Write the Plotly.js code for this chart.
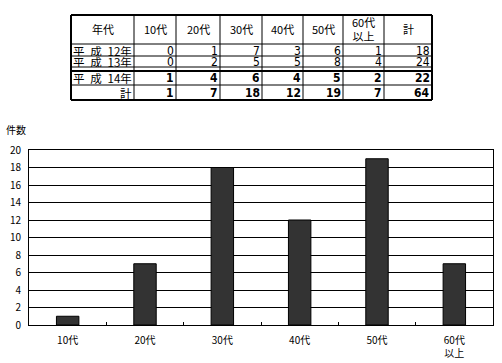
<!DOCTYPE html>
<html>
<head>
<meta charset="utf-8">
<script src="https://cdn.plot.ly/plotly-3.0.1.min.js"></script>
<style>html,body{margin:0;padding:0;background:#fff;}#chart{width:502px;height:363px;}</style>
</head>
<body>
<div id="chart"></div>
<script>
// ---- data ----
const ageGroups = ["10代", "20代", "30代", "40代", "50代", "60代<br>以上"];
const yearLabels = ["平 成 12年", "平 成 13年", "平 成 14年"];
const headerFirst = "年代";
const h12 = [0, 1, 7, 3, 6, 1];
const h13 = [0, 2, 5, 5, 8, 4];
const h14 = [1, 4, 6, 4, 5, 2];
const totals = [1, 7, 18, 12, 19, 7];
const rowTotals = [18, 24, 22, 64];
const totalLabel = "計";
const yTitle = "件数";

const F = '"MS PGothic","Noto Sans CJK JP",sans-serif';
const FN = '"DejaVu Sans Condensed","Liberation Sans Narrow","Noto Sans CJK JP",sans-serif';
const W = 502, H = 363;
const px = x => x / W, py = y => 1 - y / H;

// ---- table geometry (pixels) ----
const colX = [71, 134, 176, 220, 262, 303, 343, 384, 432];
const rowY = [15, 44, 56, 67, 71, 85, 100];   // header | r1 | r2 | (double rule) | r3 | r4
const hLineW = [2, 1, 1, 1, 2, 1, 2];

const shapes = [];
const annotations = [];
rowY.forEach((y, i) => shapes.push({type: "line", xref: "paper", yref: "paper",
  x0: px(colX[0]), x1: px(colX[colX.length - 1]), y0: py(y), y1: py(y),
  line: {color: "#000", width: hLineW[i]}}));
colX.forEach((x, i) => shapes.push({type: "line", xref: "paper", yref: "paper",
  x0: px(x), x1: px(x), y0: py(rowY[0]), y1: py(rowY[rowY.length - 1]),
  line: {color: "#000", width: (i === 0 || i === colX.length - 1) ? 2 : 1}}));

function cell(text, col, r0, r1, align, font, h) {
  const xl = colX[col], xr = colX[col + 1];
  let x, xa;
  if (align === "center") { x = (xl + xr) / 2; xa = "center"; }
  else if (align === "left") { x = xl + 1; xa = "left"; }
  else { x = xr - 1; xa = "right"; }
  const a = {text: text, xref: "paper", yref: "paper", x: px(x), y: py((r0 + r1) / 2),
    xanchor: xa, yanchor: "middle", showarrow: false, borderpad: 0, font: font};
  if (h) { a.height = h; a.valign = "middle"; }
  annotations.push(a);
}
const fH = {family: F, size: 11, color: "#000"};
const fL = {family: F, size: 11.5, color: "#000"};
const fN = {family: FN, size: 12, color: "#000"};

// header row
const headerVals = [headerFirst].concat(ageGroups).concat([totalLabel]);
headerVals.forEach((t, c) => cell(t, c, rowY[0], rowY[1], "center", fH));
// body rows
const spaced = s => s.replace(/ /g, "\u2002");
const bodyRows = [
  {label: spaced(yearLabels[0]), vals: h12, tot: rowTotals[0], r0: rowY[1], r1: rowY[2], bold: false, la: "left"},
  {label: spaced(yearLabels[1]), vals: h13, tot: rowTotals[1], r0: rowY[2], r1: rowY[3], bold: false, la: "left"},
  {label: spaced(yearLabels[2]), vals: h14, tot: rowTotals[2], r0: rowY[4], r1: rowY[5], bold: true, la: "left"},
  {label: totalLabel, vals: totals, tot: rowTotals[3], r0: rowY[5], r1: rowY[6], bold: true, la: "right"}
];
bodyRows.forEach(r => {
  const h = Math.floor(r.r1 - r.r0) - 1;
  cell(r.label, 0, r.r0, r.r1, r.la, fL, h);
  r.vals.concat([r.tot]).forEach((v, i) => {
    const t = r.bold ? "<b>" + v + "</b>" : String(v);
    cell(t, i + 1, r.r0, r.r1, "right", fN, h);
  });
});

annotations.push({
  text: yTitle, xref: "paper", yref: "paper",
  x: px(4), y: py(139), xanchor: "left", yanchor: "bottom",
  showarrow: false, font: {family: F, size: 10, color: "#000"}
});

const bars = {
  type: "bar",
  x: ageGroups,
  y: totals,
  marker: {color: "#333333", line: {color: "#000", width: 1}},
  hoverinfo: "none"
};

const pL = 29, pR = 493, pT = 150, pB = 325;

const layout = {
  width: W, height: H,
  margin: {l: 0, r: 0, t: 0, b: 0},
  paper_bgcolor: "#fff", plot_bgcolor: "#fff",
  font: {family: F, size: 10, color: "#000"},
  showlegend: false,
  bargap: 0.71,
  xaxis: {
    domain: [px(pL), px(pR)],
    type: "category",
    showline: true, mirror: true, linecolor: "#000", linewidth: 1,
    ticks: "inside", ticklen: 3, tickcolor: "#000", tickson: "boundaries",
    showgrid: false, zeroline: false,
    tickfont: {family: F, size: 10, color: "#000"},
    ticklabelstandoff: 6,
    automargin: false, fixedrange: true
  },
  yaxis: {
    domain: [py(pB), py(pT)],
    range: [0, 20], dtick: 2,
    showline: true, mirror: true, linecolor: "#000", linewidth: 1,
    showgrid: true, gridcolor: "#000", gridwidth: 1,
    ticks: "", zeroline: false,
    tickfont: {family: F, size: 10, color: "#000"},
    ticklabelstandoff: 5,
    automargin: false, fixedrange: true
  },
  annotations: annotations,
  shapes: shapes
};

Plotly.newPlot("chart", [bars], layout, {displayModeBar: false, staticPlot: true});
</script>
</body>
</html>
